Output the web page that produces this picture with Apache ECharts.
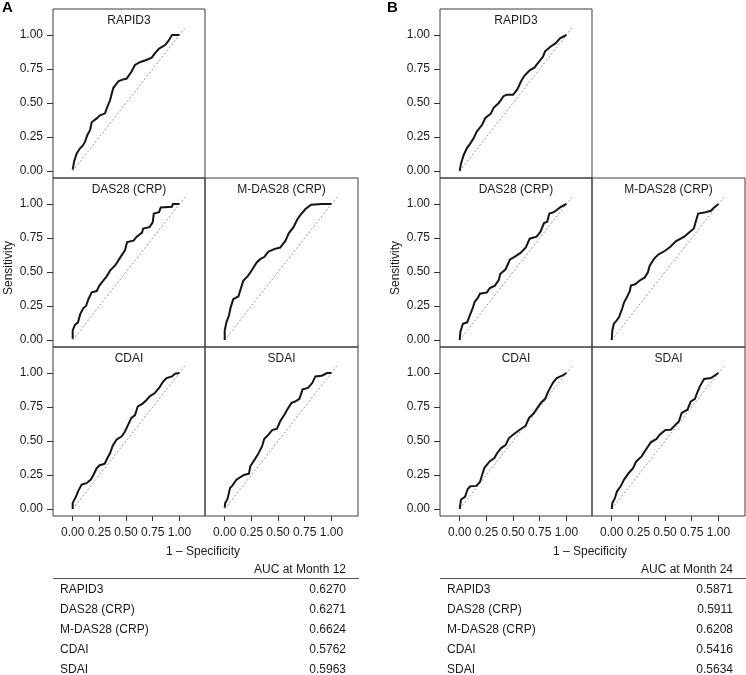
<!DOCTYPE html>
<html>
<head>
<meta charset="utf-8">
<script src="https://cdn.jsdelivr.net/npm/echarts@6/dist/echarts.min.js"></script>
<style>
html,body{margin:0;padding:0;background:#fff;}
#chart{width:746px;height:675px;}
</style>
</head>
<body>
<div id="chart"></div>
<script>
// ---------- data ----------
const measures = ['RAPID3', 'DAS28 (CRP)', 'M-DAS28 (CRP)', 'CDAI', 'SDAI'];
const aucMonth12 = ['0.6270', '0.6271', '0.6624', '0.5762', '0.5963'];
const aucMonth24 = ['0.5871', '0.5911', '0.6208', '0.5416', '0.5634'];
const tickValues = [0, 0.25, 0.5, 0.75, 1];
const tickLabels = ['0.00', '0.25', '0.50', '0.75', '1.00'];
const refLine = [[0, 0], [1.05, 1.05]];

// ROC curves [1 - specificity, sensitivity], Month 12 (panel A)
const rocA_RAPID3 = [[0,0.01],[0.0125,0.069],[0.0375,0.13],[0.069,0.167],[0.094,0.186],[0.116,0.216],[0.1375,0.265],[0.1625,0.30],[0.178,0.358],[0.225,0.387],[0.256,0.41],[0.303,0.424],[0.319,0.46],[0.35,0.52],[0.38,0.61],[0.428,0.66],[0.46,0.67],[0.506,0.68],[0.55,0.73],[0.584,0.78],[0.63,0.80],[0.69,0.816],[0.74,0.833],[0.77,0.865],[0.81,0.90],[0.866,0.926],[0.897,0.956],[0.93,1.0],[1.0,1.0]];
const rocA_DAS28 = [[0,0.01],[0,0.07],[0.02,0.11],[0.05,0.13],[0.07,0.19],[0.1,0.235],[0.125,0.25],[0.147,0.30],[0.178,0.35],[0.225,0.36],[0.25,0.40],[0.29,0.44],[0.32,0.47],[0.35,0.51],[0.40,0.55],[0.44,0.60],[0.49,0.66],[0.51,0.72],[0.57,0.73],[0.6,0.76],[0.65,0.79],[0.66,0.82],[0.72,0.83],[0.75,0.865],[0.76,0.93],[0.81,0.94],[0.825,0.975],[0.93,0.98],[0.94,1.0],[1.0,1.0]];
const rocA_MDAS28 = [[0,0],[0,0.07],[0.016,0.13],[0.04,0.18],[0.056,0.24],[0.08,0.30],[0.128,0.32],[0.15,0.375],[0.174,0.436],[0.22,0.473],[0.26,0.52],[0.30,0.57],[0.336,0.596],[0.37,0.61],[0.41,0.65],[0.47,0.67],[0.52,0.68],[0.57,0.73],[0.60,0.784],[0.645,0.83],[0.676,0.88],[0.71,0.92],[0.757,0.963],[0.81,0.995],[0.91,1.0],[1.0,1.0]];
const rocA_CDAI = [[0,0],[0,0.045],[0.03,0.09],[0.05,0.13],[0.084,0.18],[0.13,0.19],[0.17,0.216],[0.19,0.245],[0.225,0.30],[0.25,0.32],[0.30,0.333],[0.325,0.375],[0.35,0.41],[0.375,0.466],[0.41,0.51],[0.46,0.534],[0.49,0.57],[0.52,0.62],[0.55,0.67],[0.584,0.69],[0.61,0.755],[0.656,0.775],[0.69,0.80],[0.725,0.83],[0.77,0.853],[0.81,0.89],[0.85,0.94],[0.88,0.963],[0.93,0.975],[0.96,0.995],[1.0,1.0]];
const rocA_SDAI = [[0,0.01],[0.005,0.045],[0.025,0.07],[0.05,0.155],[0.07,0.17],[0.11,0.216],[0.18,0.25],[0.227,0.26],[0.24,0.314],[0.27,0.35],[0.31,0.40],[0.35,0.46],[0.37,0.515],[0.41,0.547],[0.445,0.58],[0.49,0.59],[0.52,0.645],[0.565,0.70],[0.585,0.73],[0.626,0.78],[0.66,0.79],[0.70,0.81],[0.73,0.88],[0.78,0.89],[0.82,0.926],[0.85,0.975],[0.91,0.98],[0.96,1.0],[1.0,1.0]];

// ROC curves, Month 24 (panel B)
const rocB_RAPID3 = [[0,0],[0.0125,0.056],[0.0375,0.118],[0.069,0.17],[0.094,0.196],[0.13,0.24],[0.16,0.29],[0.21,0.34],[0.24,0.39],[0.29,0.42],[0.32,0.466],[0.366,0.50],[0.41,0.55],[0.44,0.56],[0.50,0.56],[0.54,0.60],[0.575,0.66],[0.606,0.70],[0.656,0.74],[0.70,0.76],[0.74,0.80],[0.78,0.84],[0.80,0.88],[0.85,0.914],[0.90,0.94],[0.94,0.975],[1.0,1.0]];
const rocB_DAS28 = [[0,0],[0.006,0.06],[0.03,0.12],[0.07,0.13],[0.094,0.18],[0.12,0.23],[0.14,0.28],[0.17,0.31],[0.19,0.34],[0.256,0.35],[0.28,0.38],[0.33,0.40],[0.366,0.44],[0.38,0.485],[0.43,0.52],[0.47,0.59],[0.51,0.61],[0.57,0.64],[0.62,0.68],[0.656,0.745],[0.72,0.76],[0.756,0.795],[0.79,0.86],[0.82,0.87],[0.84,0.93],[0.88,0.94],[0.91,0.956],[0.94,0.975],[1.0,1.0]];
const rocB_MDAS28 = [[0,0],[0.006,0.07],[0.02,0.12],[0.044,0.14],[0.07,0.17],[0.10,0.235],[0.116,0.277],[0.14,0.31],[0.17,0.36],[0.18,0.40],[0.22,0.41],[0.26,0.436],[0.31,0.46],[0.34,0.50],[0.356,0.546],[0.40,0.60],[0.44,0.63],[0.50,0.656],[0.55,0.686],[0.60,0.725],[0.68,0.76],[0.725,0.79],[0.77,0.82],[0.79,0.877],[0.81,0.93],[0.88,0.94],[0.93,0.95],[0.96,0.975],[1.0,1.0]];
const rocB_CDAI = [[0,0],[0.0125,0.07],[0.05,0.09],[0.075,0.147],[0.1,0.167],[0.156,0.17],[0.19,0.20],[0.21,0.25],[0.23,0.30],[0.256,0.326],[0.28,0.35],[0.325,0.375],[0.35,0.41],[0.39,0.45],[0.43,0.47],[0.46,0.52],[0.50,0.546],[0.54,0.57],[0.575,0.59],[0.616,0.61],[0.65,0.67],[0.69,0.70],[0.725,0.74],[0.76,0.78],[0.80,0.81],[0.83,0.865],[0.875,0.93],[0.91,0.963],[0.96,0.98],[1.0,1.0]];
const rocB_SDAI = [[0,0],[0.006,0.044],[0.03,0.08],[0.05,0.13],[0.084,0.167],[0.116,0.216],[0.16,0.265],[0.2,0.30],[0.23,0.35],[0.28,0.387],[0.32,0.436],[0.366,0.49],[0.42,0.515],[0.45,0.546],[0.50,0.58],[0.553,0.583],[0.59,0.613],[0.63,0.645],[0.656,0.706],[0.71,0.73],[0.74,0.79],[0.78,0.81],[0.80,0.853],[0.825,0.90],[0.866,0.956],[0.93,0.963],[1.0,1.0]];

// ---------- layout ----------
const FONT = "'Liberation Sans', Arial, Helvetica, sans-serif";
const rowTops = [9, 178, 347];
const rowH = 169;
const pxPerUnitX = 106.7, pxPerUnitY = 136;
const xMin = -19.7 / pxPerUnitX;
const yMin = -7 / pxPerUnitY;
const yMax = yMin + rowH / pxPerUnitY;

const figures = [
  { label: 'A', labelX: 2, cols: [53, 205], colW: [152, 153], month: 'AUC at Month 12', auc: aucMonth12,
    curves: [rocA_RAPID3, rocA_DAS28, rocA_MDAS28, rocA_CDAI, rocA_SDAI] },
  { label: 'B', labelX: 387, cols: [440, 592], colW: [152, 153], month: 'AUC at Month 24', auc: aucMonth24,
    curves: [rocB_RAPID3, rocB_DAS28, rocB_MDAS28, rocB_CDAI, rocB_SDAI] }
];
// facet positions [col,row] for each measure
const facetPos = [[0, 0], [0, 1], [1, 1], [0, 2], [1, 2]];

const grids = [], xAxes = [], yAxes = [], series = [], graphics = [];

figures.forEach(fig => {
  measures.forEach((m, i) => {
    const [c, r] = facetPos[i];
    const left = fig.cols[c], top = rowTops[r], w = fig.colW[c];
    const idx = grids.length;
    const showX = (r === 2), showY = (c === 0);
    grids.push({ left: left, top: top, width: w, height: rowH, show: true,
      borderColor: '#3c3c3c', borderWidth: 1, backgroundColor: 'transparent', containLabel: false });
    xAxes.push({ gridIndex: idx, type: 'value', min: xMin, max: xMin + w / pxPerUnitX,
      axisLine: { show: false, onZero: false },
      splitLine: { show: false },
      axisTick: { show: showX, length: 5, customValues: tickValues, lineStyle: { color: '#333', width: 1 } },
      axisLabel: { show: showX, customValues: tickValues, margin: 11, fontSize: 12, color: '#1a1a1a', fontFamily: FONT,
        formatter: v => tickLabels[tickValues.indexOf(v)] }
    });
    yAxes.push({ gridIndex: idx, type: 'value', min: yMin, max: yMax,
      axisLine: { show: false, onZero: false },
      splitLine: { show: false },
      axisTick: { show: showY, length: 6, customValues: tickValues, lineStyle: { color: '#333', width: 1 } },
      axisLabel: { show: showY, customValues: tickValues, margin: 10, fontSize: 12, color: '#1a1a1a', fontFamily: FONT,
        formatter: v => tickLabels[tickValues.indexOf(v)] }
    });
    series.push({ type: 'line', xAxisIndex: idx, yAxisIndex: idx, data: refLine, symbol: 'none', silent: true,
      lineStyle: { color: '#8a8a8a', width: 0.9, type: [2, 2] } });
    series.push({ type: 'line', xAxisIndex: idx, yAxisIndex: idx, data: fig.curves[i], symbol: 'none',
      lineStyle: { color: '#151515', width: 2, join: 'miter' } });
    graphics.push({ type: 'text', x: left + w / 2, y: top + 12,
      style: { text: m, font: '12px ' + FONT, fill: '#1a1a1a', textAlign: 'center', textVerticalAlign: 'middle' } });
  });

  const x0 = fig.cols[0];
  const right = fig.cols[1] + fig.colW[1];
  // panel letter
  graphics.push({ type: 'text', x: fig.labelX, y: 8,
    style: { text: fig.label, font: 'bold 15px ' + FONT, fill: '#000', textVerticalAlign: 'middle' } });
  // y axis title
  graphics.push({ type: 'text', x: x0 - 44, y: 268, rotation: Math.PI / 2,
    style: { text: 'Sensitivity', font: '12px ' + FONT, fill: '#1a1a1a', textAlign: 'center', textVerticalAlign: 'middle' } });
  // x axis title
  graphics.push({ type: 'text', x: x0 + 150, y: 552,
    style: { text: '1 \u2013 Specificity', font: '12px ' + FONT, fill: '#1a1a1a', textAlign: 'center', textVerticalAlign: 'middle' } });
  // table
  graphics.push({ type: 'text', x: right - 12, y: 570,
    style: { text: fig.month, font: '12px ' + FONT, fill: '#1a1a1a', textAlign: 'right', textVerticalAlign: 'middle' } });
  graphics.push({ type: 'line', shape: { x1: x0, y1: 578.5, x2: right + 1, y2: 578.5 },
    style: { stroke: '#555', lineWidth: 1 } });
  measures.forEach((m, i) => {
    const y = 589.5 + 20 * i;
    graphics.push({ type: 'text', x: x0 + 7, y: y,
      style: { text: m, font: '12px ' + FONT, fill: '#1a1a1a', textAlign: 'left', textVerticalAlign: 'middle' } });
    graphics.push({ type: 'text', x: right - 12, y: y,
      style: { text: fig.auc[i], font: '12px ' + FONT, fill: '#1a1a1a', textAlign: 'right', textVerticalAlign: 'middle' } });
  });
});

const chart = echarts.init(document.getElementById('chart'), null, { renderer: 'canvas' });
chart.setOption({
  animation: false,
  backgroundColor: '#fff',
  textStyle: { fontFamily: FONT },
  grid: grids,
  xAxis: xAxes,
  yAxis: yAxes,
  series: series,
  graphic: graphics
});
</script>
</body>
</html>
